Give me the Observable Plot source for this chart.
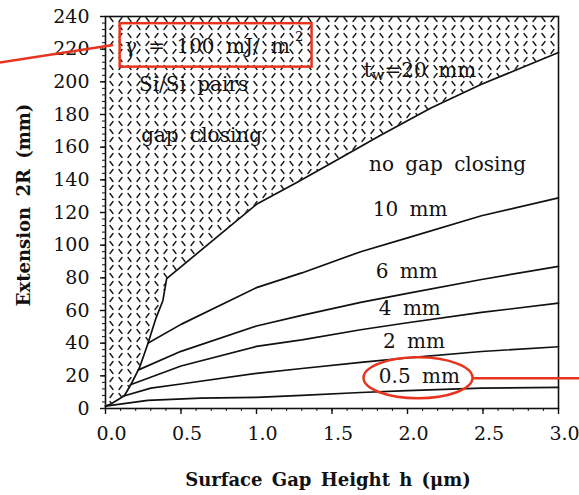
<!DOCTYPE html>
<html><head><meta charset="utf-8">
<script src="https://cdn.jsdelivr.net/npm/d3@7"></script>
<script src="https://cdn.jsdelivr.net/npm/@observablehq/plot@0.6"></script>
<style>
html,body{margin:0;padding:0;background:#fff}
svg{display:block}
</style>
</head><body><div id="chart"></div>
<script>
// ---- data ----
const hBoundary = [0, 0.03, 0.125, 0.17, 0.225, 0.28, 0.335, 0.38, 0.405, 1.0, 1.27, 1.5, 1.825, 2.155, 2.49, 3.0];
const rBoundary = [1.5, 2.5, 7.8, 15, 25, 39.5, 55.5, 66, 79.5, 125, 138.5, 150.5, 167.5, 184, 198.5, 218];
const h10 = [0.28, 0.5, 1.0, 1.3, 1.69, 2.0, 2.49, 3.0];
const r10 = [40, 51.5, 74, 83, 96, 104.5, 118, 129];
const h6 = [0.215, 0.5, 1.0, 1.3, 1.69, 2.0, 2.49, 3.0];
const r6 = [23.5, 35, 50.5, 57, 65, 70.5, 79, 87];
const h4 = [0.165, 0.5, 1.0, 1.3, 1.69, 2.0, 2.49, 3.0];
const r4 = [14.5, 26, 38, 42, 48.2, 52.5, 58.8, 64.5];
const h2 = [0.115, 0.3, 0.5, 1.0, 1.3, 1.69, 2.0, 2.49, 3.0];
const r2 = [7.5, 12.5, 15, 21.5, 24.5, 28.2, 31, 34.9, 37.8];
const h05 = [0, 0.28, 0.63, 1.0, 1.3, 1.69, 2.0, 2.49, 3.0];
const r05 = [1.5, 5, 6.4, 6.8, 8, 9.8, 11, 12.5, 12.9];

const xTicks = [0, 0.5, 1.0, 1.5, 2.0, 2.5, 3.0];
const xTickLabels = ["0.0", "0.5", "1.0", "1.5", "2.0", "2.5", "3.0"];
const xMinor = d3.range(0, 3.001, 0.1).map(v => +v.toFixed(1));
const yTicks = [0, 20, 40, 60, 80, 100, 120, 140, 160, 180, 200, 220, 240];
const yMinor = d3.range(0, 241, 4);

const labelText = ["Si/Si pairs", "gap closing", "tw=20 mm", "no gap closing", "10 mm", "6 mm", "4 mm", "2 mm", "0.5 mm"];
const labelH = [0.222, 0.236, 1.71, 1.745, 1.77, 1.79, 1.81, 1.838, 1.81];
const labelR = [198.1, 166.8, 206.7, 149.1, 121.6, 83.7, 61.4, 40.8, 19.4];

const gammaText = "γ = 100 mJ/ m";
const gammaPos = [0.129, 221.3];
const supPos = [1.255, 227.5];
const boxH = [0.097, 1.368];
const boxR = [209, 235.6];
const pointerH = [-0.70, 0.05];
const pointerR = [211.8, 222.5];
const ellipseC = [2.073, 18.5];
const ellipseRad = [0.361, 12.5];
const pointer2H = [2.434, 3.2];
const pointer2R = [18.5, 18.5];

// ---- build tables ----
const curves = [
  {name: "tw20", h: hBoundary, r: rBoundary},
  {name: "10", h: h10, r: r10},
  {name: "6", h: h6, r: r6},
  {name: "4", h: h4, r: r4},
  {name: "2", h: h2, r: r2},
  {name: "0.5", h: h05, r: r05}
];
const lineRows = curves.flatMap(c => c.h.map((h, i) => ({series: c.name, h, r: c.r[i]})));
const areaRows = hBoundary.map((h, i) => ({h, r: rBoundary[i]}));
const labels = labelText.map((t, i) => ({t, h: labelH[i], r: labelR[i]}));

const RED = "#e8341f";
const FONT = "DejaVu Serif";

const defs = () => {
  const d = d3.create("svg:defs");
  const p = d.append("pattern").attr("id", "plate").attr("patternUnits", "userSpaceOnUse")
    .attr("width", 18).attr("height", 16);
  p.append("rect").attr("width", 18).attr("height", 16).attr("fill", "#fff");
  p.append("path")
    .attr("d", "M2,1.5 L5,5.5 M11,9.5 L14,13.5 M11,5.5 L14,1.5 M2,13.5 L5,9.5")
    .attr("stroke", "#1a1a1a").attr("stroke-width", 1.4).attr("stroke-linecap", "round").attr("fill", "none");
  return d.node();
};

const chart = Plot.plot({
  width: 579,
  height: 495,
  marginLeft: 105,
  marginRight: 21,
  marginTop: 16,
  marginBottom: 87,
  style: {fontFamily: FONT, fontSize: "19px", color: "#111", background: "#fff"},
  x: {domain: [0, 3], axis: null},
  y: {domain: [0, 240], axis: null},
  marks: [
    defs,
    Plot.areaY(areaRows, {x: "h", y1: "r", y2: 240, fill: "url(#plate)"}),
    Plot.line(lineRows, {x: "h", y: "r", z: "series", stroke: "#111", strokeWidth: 1.7}),
    Plot.frame({stroke: "#111", strokeWidth: 1.6}),
    // axes
    Plot.axisX({ticks: xMinor, tickSize: 3, tickFormat: () => "", label: null, stroke: "#111"}),
    Plot.axisX({ticks: xTicks, tickSize: 6, tickFormat: () => "", label: null, stroke: "#111", strokeWidth: 1.4}),
    Plot.axisX({ticks: xTicks, tickSize: 0, tickPadding: 18, dx: 6, fontSize: 19, label: null, tickFormat: d => xTickLabels[xTicks.indexOf(d)]}),
    Plot.axisY({ticks: yMinor, tickSize: 3, tickFormat: () => "", label: null, stroke: "#111"}),
    Plot.axisY({ticks: yTicks, tickSize: 5, tickPadding: 11, fontSize: 19, label: null, stroke: "#111", strokeWidth: 1.4}),
    // labels
    Plot.text(labels, {x: "h", y: "r", text: "t", textAnchor: "start", fontSize: 20, fill: "#111", fontFamily: FONT}),
    Plot.text([gammaText], {x: gammaPos[0], y: gammaPos[1], text: d => d, textAnchor: "start", fontSize: 20, fill: "#111"}),
    Plot.text(["2"], {x: supPos[0], y: supPos[1], text: d => d, textAnchor: "start", fontSize: 13, fill: "#111"}),
    // red annotations
    Plot.rect([0], {x1: boxH[0], x2: boxH[1], y1: boxR[0], y2: boxR[1], fill: "none", stroke: RED, strokeWidth: 2.5}),
    Plot.link([0], {x1: pointerH[0], x2: pointerH[1], y1: pointerR[0], y2: pointerR[1], stroke: RED, strokeWidth: 2.5}),
    Plot.link([0], {x1: pointer2H[0], x2: pointer2H[1], y1: pointer2R[0], y2: pointer2R[1], stroke: RED, strokeWidth: 2.5})
  ]
});

const svg = d3.select(chart);
svg.selectAll('g[aria-label="area"] path').attr("fill", "url(#plate)");
svg.selectAll('g[aria-label="text"] text').style("word-spacing", "5px");
// subscript w in "tw=20 mm"
svg.selectAll('g[aria-label="text"] text').each(function() {
  const t = d3.select(this);
  if (t.text() === "tw=20 mm") {
    t.text(null);
    t.append("tspan").text("t");
    t.append("tspan").attr("font-size", 15).attr("dy", 3).text("w");
    t.append("tspan").attr("dy", -3).text("=20 mm");
  }
});

const xs = chart.scale("x"), ys = chart.scale("y");
svg.append("ellipse")
  .attr("cx", xs.apply(ellipseC[0])).attr("cy", ys.apply(ellipseC[1]))
  .attr("rx", xs.apply(ellipseRad[0]) - xs.apply(0))
  .attr("ry", ys.apply(0) - ys.apply(ellipseRad[1]))
  .attr("fill", "none").attr("stroke", RED).attr("stroke-width", 2.5);

// axis titles
svg.append("text")
  .attr("x", 328).attr("y", 486)
  .attr("text-anchor", "middle")
  .attr("font-family", FONT).attr("font-size", 18).attr("font-weight", "bold").attr("fill", "#111")
  .style("word-spacing", "3px")
  .text("Surface Gap Height h (μm)");
svg.append("text")
  .attr("transform", "translate(30,205) rotate(-90)")
  .attr("text-anchor", "middle")
  .attr("font-family", FONT).attr("font-size", 18).attr("font-weight", "bold").attr("fill", "#111")
  .style("word-spacing", "4px")
  .text("Extension 2R (mm)");

document.getElementById("chart").appendChild(chart);
</script>
</body></html>
